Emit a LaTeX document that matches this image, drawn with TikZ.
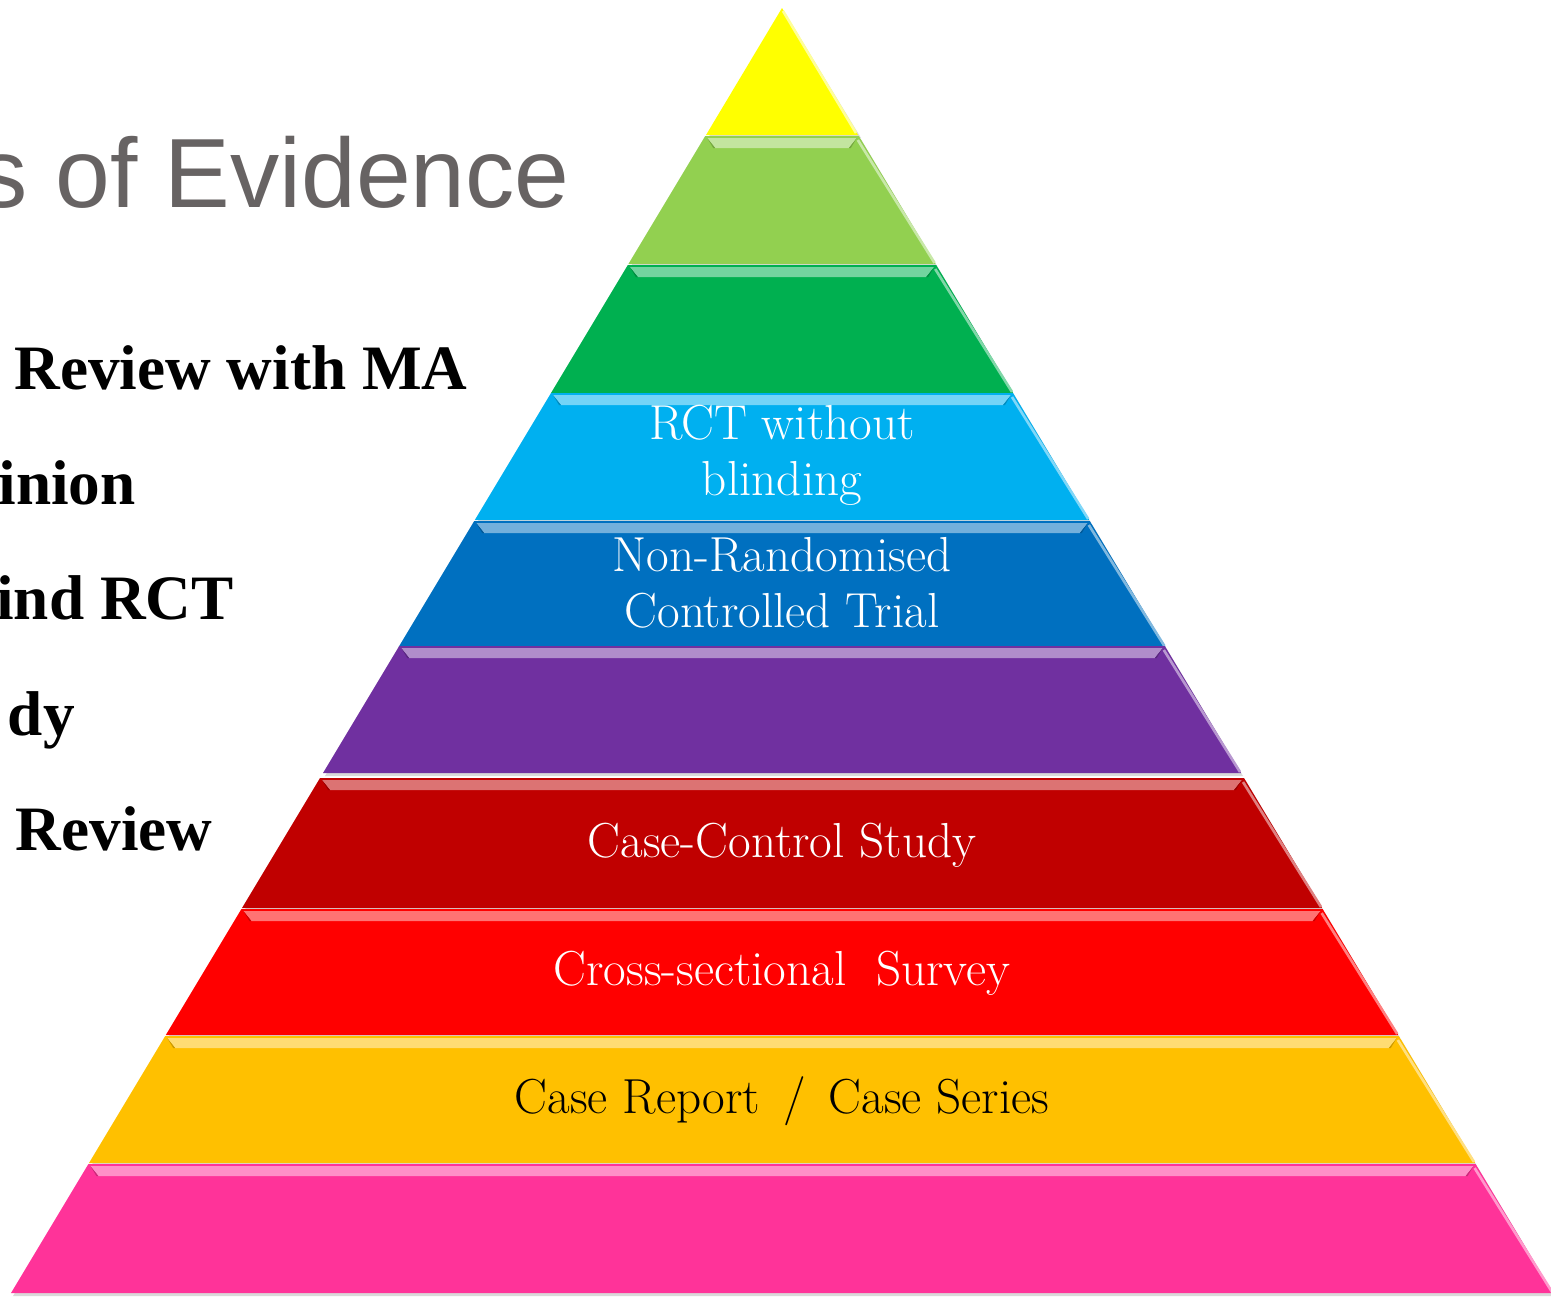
\documentclass[tikz,border=0pt]{standalone}
\usepackage{fontspec}
\newfontfamily\titlefont{Liberation Sans}
\newfontfamily\sidefont{Liberation Serif}
\usetikzlibrary{calc}

\definecolor{lyrYellow}{HTML}{FFFF00}
\definecolor{lyrLime}{HTML}{92D050}
\definecolor{lyrGreen}{HTML}{00B050}
\definecolor{lyrCyan}{HTML}{00B0F0}
\definecolor{lyrBlue}{HTML}{0070C0}
\definecolor{lyrPurple}{HTML}{7030A0}
\definecolor{lyrDarkRed}{HTML}{C00000}
\definecolor{lyrRed}{HTML}{FF0000}
\definecolor{lyrOrange}{HTML}{FFC000}
\definecolor{lyrPink}{HTML}{FF3399}
\definecolor{titleGray}{HTML}{676363}

\begin{document}
\begin{tikzpicture}[
  x=0.02cm, y=-0.02cm,
  layertext/.style={font=\fontsize{28}{32}\selectfont, text=white, align=center, inner sep=0pt},
  sidetext/.style={font=\sidefont\bfseries\fontsize{36}{40}\selectfont, anchor=base east, inner sep=0pt},
  titletext/.style={font=\titlefont\fontsize{56}{60}\selectfont, text=titleGray, anchor=base east, inner sep=0pt}
]
\useasboundingbox (0,0) rectangle (1551,1296);
\clip (0,0) rectangle (1551,1296);

% top of the pyramid
\coordinate (apex) at (782,8);
\fill[black!15] ($(apex)+(2,3)$) -- (861,138) -- (708,138) -- cycle;
\fill[lyrYellow] (apex) -- (858,135) -- (706,135) -- cycle;
\draw[lyrYellow!40!white, line width=1.5] ($(apex)+(1,3)$) -- (856,133);

% lower layers: top y / bottom y / colour
\foreach \yt/\yb/\col in {136/264/lyrLime, 265/393/lyrGreen, 393/520/lyrCyan,
    521/647/lyrBlue, 646/773/lyrPurple, 778/908/lyrDarkRed, 909/1035/lyrRed,
    1036/1163/lyrOrange, 1164/1293/lyrPink}{
  \pgfmathsetmacro{\tl}{782-0.6*(\yt-8)}
  \pgfmathsetmacro{\tr}{782+0.6*(\yt-8)}
  \pgfmathsetmacro{\bl}{782-0.6*(\yb-8)}
  \pgfmathsetmacro{\br}{782+0.6*(\yb-8)}
  \fill[black!15] (\tl+2,\yt+3) -- (\tr+2,\yt+3) -- (\br+2,\yb+3) -- (\bl+2,\yb+3) -- cycle;
  \fill[\col] (\tl,\yt) -- (\tr,\yt) -- (\br,\yb) -- (\bl,\yb) -- cycle;
  % bevel
  \fill[\col!55!white] (\tl+2,\yt+2) -- (\tr-2,\yt+2) -- (\tr-10,\yt+12) -- (\tl+10,\yt+12) -- cycle;
  \fill[\col!80!black] (\tl+2,\yt+2) -- (\tl+10,\yt+12) -- (\tl+8,\yt+12) -- cycle;
  \fill[\col!80!black] (\tr-2,\yt+2) -- (\tr-10,\yt+12) -- (\tr-8,\yt+12) -- cycle;
  \draw[\col!50!white, line width=1.5] (\tr-1,\yt+4) -- (\br-1,\yb-1);
}

% layer labels
\node[layertext] (rct) at (782,455) {RCT without\\blinding};
\node[layertext] (nrct) at (782,583) {Non-Randomised\\Controlled Trial};
\node[layertext, anchor=base] (cc) at (782,857) {Case-Control Study};
\node[layertext, anchor=base] (cs) at (782,985) {Cross-sectional\ \ Survey};
\node[layertext, anchor=base, text=black] (cr) at (782,1113) {Case Report \,/\, Case Series};

% cut-off text on the left
\node[titletext] (title) at (570,207) {s of Evidence};
\node[sidetext] (sr) at (468,389) {Review with MA};
\node[sidetext] (op) at (136,504) {inion};
\node[sidetext] (db) at (234,619) {ind RCT};
\node[sidetext] (st) at (75,735) {dy};
\node[sidetext] (rv) at (213,850) {Review};
\end{tikzpicture}
\end{document}
